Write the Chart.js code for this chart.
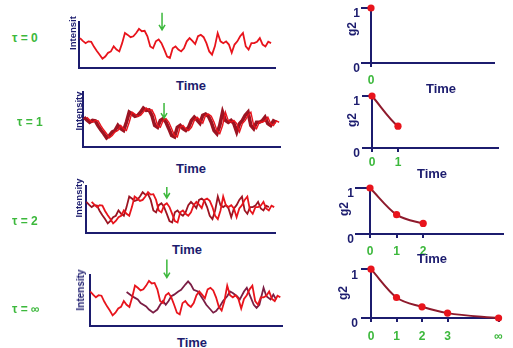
<!DOCTYPE html>
<html>
<head>
<meta charset="utf-8">
<script src="https://cdn.jsdelivr.net/npm/chart.js@4.4.0/dist/chart.umd.min.js"></script>
<style>
  body { margin: 0; background: #fff; width: 513px; height: 348px; position: relative; overflow: hidden;
         font-family: "Liberation Sans", Arial, sans-serif; }
  .box { position: absolute; }
  .lbl { position: absolute; font-weight: bold; white-space: nowrap; line-height: 1; transform: translate(0, -50%); }
  .mid { transform: translate(-50%, -50%); }
  .rot { transform: translate(-50%, -50%) rotate(-90deg); }
</style>
</head>
<body>
<script>
// intensity trace, one value per time step
const trace = [6.5,5.9,5.4,5.8,5.7,4.6,3.7,2.9,2.0,2.5,3.3,3.6,4.7,4.0,3.6,5.4,7.6,7.2,6.7,6.9,
               7.6,8.5,8.0,8.1,6.9,4.7,4.3,5.8,6.2,5.4,4.0,2.5,2.2,4.3,4.7,4.0,3.6,4.3,5.8,6.5,
               5.9,5.2,6.9,7.2,6.7,5.4,3.6,2.9,4.7,7.6,5.8,5.4,5.8,5.1,3.3,5.1,5.8,6.9,7.6,4.7,
               4.0,5.4,5.4,5.7,6.5,5.1,4.7,5.7,5.4];
// uncorrelated trace for the infinite lag
const trace2T = [13,15,16,17,18,20,21,22.5,24,25,26,27,28,29,30,31.5,32.5,34,35,36,37,38.5,40.5,41.5,43,
                 44,45,46.5,47.5,49,50,51,52.5,53.5,55,56,57,58.5,59.5,60.5,62,63,64.5,65.5,66.5];
const trace2V = [6.4,5.6,5.3,5.0,4.3,3.7,3.1,2.5,3.1,4.0,4.7,4.0,4.7,5.6,5.9,6.5,6.8,7.8,8.4,7.8,6.8,6.5,4.9,4.0,3.1,
                 2.5,2.8,3.8,4.7,5.6,6.5,6.2,5.6,5.0,6.5,7.2,5.9,4.0,3.4,4.0,7.2,5.6,5.0,5.9,5.0];
const tauLabels = ['τ = 0', 'τ = 1', 'τ = 2', 'τ = ∞'];
const tauShift = [0, 1, 2, null];
const yTitles = ['Intensit', 'Intensity', 'Intensity', 'Intensity'];

// correlation curve
const lagTicks = [0, 1, 2, 3, 5];
const lagLabels = ['0', '1', '2', '3', '∞'];
const g2 = [1, 0.42, 0.23, 0.1, 0];
const lagShown = [0, 1, 2, 5];

const navy = '#1c1c6e';
const red = '#e8141c';
const darkRed = '#9c1422';
const maroon = '#7b1e45';
const green = '#3cb83c';

function addBox(left, top, width, height) {
  const div = document.createElement('div');
  div.className = 'box';
  Object.assign(div.style, { left: left + 'px', top: top + 'px', width: width + 'px', height: height + 'px' });
  const c = document.createElement('canvas');
  div.appendChild(c);
  document.body.appendChild(div);
  return c;
}

function addLabel(text, x, y, cls, color, size) {
  const d = document.createElement('div');
  d.className = 'lbl ' + cls;
  d.textContent = text;
  Object.assign(d.style, { left: x + 'px', top: y + 'px', color: color, fontSize: size + 'px' });
  document.body.appendChild(d);
}

// green arrow marking the same moment in each trace
const arrowPlugin = {
  id: 'arrow',
  afterDraw(chart, args, opts) {
    if (opts.t == null) return;
    const { ctx, scales: { x, y } } = chart;
    const px = x.getPixelForValue(opts.t);
    const y0 = y.getPixelForValue(opts.from), y1 = y.getPixelForValue(opts.to);
    ctx.save();
    ctx.strokeStyle = green;
    ctx.lineWidth = 1.5;
    ctx.beginPath();
    ctx.moveTo(px, y0); ctx.lineTo(px, y1);
    ctx.moveTo(px - 3, y1 - 5); ctx.lineTo(px, y1); ctx.lineTo(px + 3, y1 - 5);
    ctx.stroke();
    ctx.restore();
  }
};

// cut the decay curve off at the largest lag reached so far
const lagClip = {
  id: 'lagClip',
  beforeDatasetDraw(chart, args, opts) {
    if (args.index !== 1) return;
    const { ctx, scales: { x } } = chart;
    ctx.save();
    ctx.beginPath();
    ctx.rect(0, 0, x.getPixelForValue(opts.upTo), chart.height);
    ctx.clip();
  },
  afterDatasetDraw(chart, args) {
    if (args.index === 1) chart.ctx.restore();
  }
};

const left = [
  { area: [79, 22, 275, 68],   xMin: -0.35, xMax: 69.4, yMax: 10,  arrow: { t: 29.2, from: 12, to: 8.3 } },
  { area: [83, 92, 280, 147],  xMin: -0.35, xMax: 69.3, yMax: 12,  arrow: { t: 28.3, from: 9.6, to: 6.3 } },
  { area: [86, 186, 275, 233], xMin: -0.1,  xMax: 70.3, yMax: 9.8, arrow: { t: 30, from: 9.6, to: 7.3 } },
  { area: [90, 275, 282, 326], xMin: -0.1,  xMax: 68.6, yMax: 9.6, arrow: { t: 27.4, from: 12.5, to: 9.1 } }
];
const leftText = [
  { tau: [12, 38], time: [191, 85],  yt: [73, 32.5], ys: 9.5 },
  { tau: [17, 122], time: [191, 168], yt: [79, 111], ys: 9.5 },
  { tau: [12, 221], time: [187, 249], yt: [78.5, 197.5], ys: 9.5 },
  { tau: [12, 309], time: [192, 342], yt: [81, 290], ys: 10 }
];

left.forEach((p, k) => {
  const [l, t, r, b] = p.area;
  const P = { l: 6, r: 6, t: 18, b: 6 };
  const canvas = addBox(l - P.l, t - P.t, r - l + P.l + P.r, b - t + P.t + P.b);
  const pts = trace.map((v, i) => ({ x: i, y: v }));
  let datasets;
  if (k === 0) {
    datasets = [{ data: pts, borderColor: red, borderWidth: 1.8 }];
  } else if (tauShift[k] != null) {
    const moved = trace.map((v, i) => ({ x: i + tauShift[k], y: v }));
    datasets = [
      { data: moved, borderColor: red, borderWidth: k === 1 ? 1.4 : 1.8 },
      { data: pts, borderColor: darkRed, borderWidth: k === 1 ? 3.6 : 1.8 }
    ];
  } else {
    datasets = [
      { data: pts, borderColor: red, borderWidth: 1.8 },
      { data: trace2T.map((tt, i) => ({ x: tt, y: trace2V[i] })), borderColor: maroon, borderWidth: 1.8 }
    ];
  }
  datasets.forEach(d => { d.pointRadius = 0; d.tension = 0; d.clip = false; });
  const hidden = { display: false };
  new Chart(canvas, {
    type: 'line',
    data: { datasets },
    plugins: [arrowPlugin],
    options: {
      responsive: true, maintainAspectRatio: false, animation: false,
      layout: { padding: { left: P.l, right: P.r, top: P.t, bottom: P.b } },
      plugins: { legend: hidden, tooltip: { enabled: false }, arrow: p.arrow },
      scales: {
        x: { type: 'linear', min: p.xMin, max: p.xMax, ticks: hidden, grid: hidden,
             border: { display: true, color: navy, width: 2 }, afterFit: s => { s.height = 0; } },
        y: { min: 0, max: p.yMax, ticks: hidden, grid: hidden,
             border: { display: true, color: navy, width: 2 }, afterFit: s => { s.width = 0; } }
      }
    }
  });
  const tx = leftText[k];
  addLabel(tauLabels[k], tx.tau[0], tx.tau[1], '', green, 12);
  addLabel('Time', tx.time[0], tx.time[1], 'mid', navy, 13);
  addLabel(yTitles[k], tx.yt[0], tx.yt[1], 'rot', navy, tx.ys);
});

const right = [
  { area: [371, 8, 494, 63],    xMax: 4.7,  tick: 10, yPad: 1, xPad: 6 },
  { area: [372, 96, 498, 148],  xMax: 4.85, tick: 10, yPad: 2, xPad: 3 },
  { area: [370, 188, 503, 234], xMax: 5.0,  tick: 15, yPad: 1, xPad: 6 },
  { area: [371, 269, 502, 318], xMax: 5.1,  tick: 10, yPad: 3, xPad: 7 }
];
const rightText = [
  { g2: [351.5, 28.5], time: [441, 88] },
  { g2: [351.5, 119.5], time: [432, 173] },
  { g2: [343.5, 208.5], time: [432, 257.5] },
  { g2: [343, 292.5], time: null }
];

right.forEach((p, k) => {
  const [l, t, r, b] = p.area;
  const Wy = 26, Hx = 34;
  const P = { l: 2, r: 8, t: 10, b: 2 };
  const canvas = addBox(l - Wy - P.l, t - P.t, r - l + Wy + P.l + P.r, b - t + Hx + P.t + P.b);
  const n = lagTicks.filter(v => v <= lagShown[k]).length;
  const curve = lagTicks.map((v, i) => ({ x: v, y: g2[i] }));
  new Chart(canvas, {
    type: 'line',
    data: {
      datasets: [
        { data: curve.slice(0, n), showLine: false, pointRadius: 3.6, pointBackgroundColor: red,
          pointBorderWidth: 0, clip: false },
        { data: curve, borderColor: '#8e1a2c', borderWidth: 2, pointRadius: 0,
          cubicInterpolationMode: 'monotone', clip: false }
      ]
    },
    plugins: [lagClip],
    options: {
      responsive: true, maintainAspectRatio: false, animation: false,
      layout: { padding: { left: P.l, right: P.r, top: P.t, bottom: P.b } },
      plugins: { legend: { display: false }, tooltip: { enabled: false }, lagClip: { upTo: lagShown[k] } },
      scales: {
        x: {
          type: 'linear', min: 0, max: p.xMax,
          afterBuildTicks: s => { s.ticks = lagTicks.slice(0, n).map(v => ({ value: v })); },
          afterFit: s => { s.height = Hx; },
          ticks: { color: green, font: { family: 'Liberation Sans', size: 12, weight: 'bold' }, padding: p.xPad,
                   maxRotation: 0, callback: v => lagLabels[lagTicks.indexOf(v)] },
          grid: { drawOnChartArea: false, tickLength: 4, color: navy, lineWidth: 2 },
          border: { display: true, color: navy, width: 2 }
        },
        y: {
          min: 0, max: 1,
          afterBuildTicks: s => { s.ticks = [{ value: 0 }, { value: 1 }]; },
          afterFit: s => { s.width = Wy; },
          ticks: { color: navy, font: { family: 'Liberation Sans', size: 12, weight: 'bold' }, padding: p.yPad,
                   labelOffset: 6, callback: v => String(v) },
          grid: { drawOnChartArea: false, tickLength: p.tick, color: navy, lineWidth: 2 },
          border: { display: true, color: navy, width: 2 }
        }
      }
    }
  });
  const tx = rightText[k];
  addLabel('g2', tx.g2[0], tx.g2[1], 'rot', navy, 12);
  if (tx.time) addLabel('Time', tx.time[0], tx.time[1], 'mid', navy, 13);
});
</script>
</body>
</html>
